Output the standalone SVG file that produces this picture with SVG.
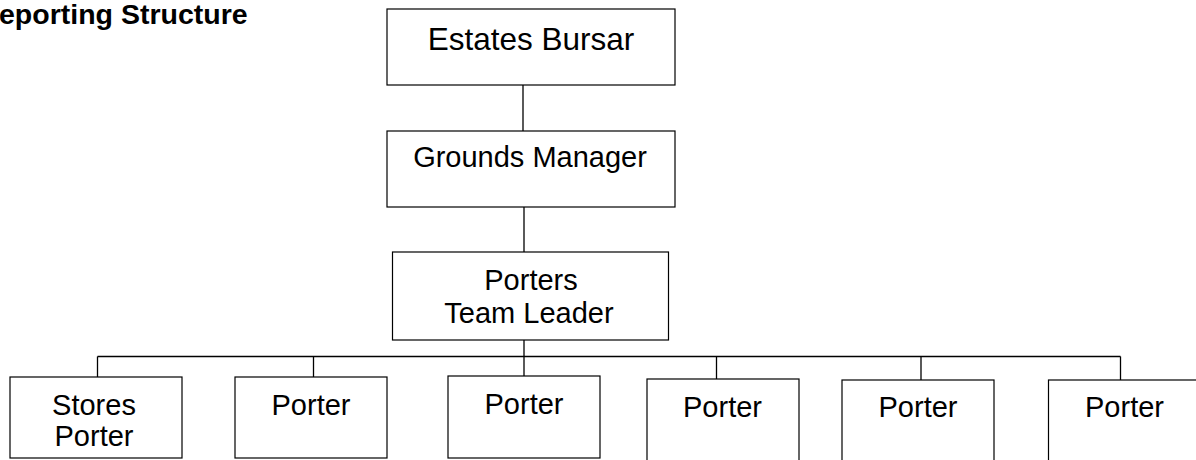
<svg xmlns="http://www.w3.org/2000/svg" width="1196" height="460" viewBox="0 0 1196 460">
<style>
.box{fill:#fff;stroke:#000;stroke-width:1.2}
.ln{fill:none;stroke:#000;stroke-width:1.3}
text{font-family:"Liberation Sans",Arial,sans-serif;fill:#000;text-anchor:middle}
.t{font-size:29px}
.title{font-size:28.5px;font-weight:bold;text-anchor:start}
</style>
<rect width="1196" height="460" fill="#fff"/>
<text class="title" x="-1" y="24">eporting Structure</text>
<g id="connectors">
<line class="ln" x1="523" y1="85" x2="523" y2="131"/>
<line class="ln" x1="524" y1="207" x2="524" y2="252"/>
<line class="ln" x1="97.5" y1="356.5" x2="1120.5" y2="356.5"/>
<line class="ln" x1="524" y1="322" x2="524" y2="376"/>
<line class="ln" x1="97.5" y1="356.5" x2="97.5" y2="377"/>
<line class="ln" x1="313.5" y1="356.5" x2="313.5" y2="377"/>
<line class="ln" x1="716.5" y1="356.5" x2="716.5" y2="379"/>
<line class="ln" x1="921" y1="356.5" x2="921" y2="380"/>
<line class="ln" x1="1120.5" y1="356.5" x2="1120.5" y2="380"/>
</g>
<g id="estates-bursar">
<rect class="box" x="387" y="9" width="288" height="76"/>
<text style="font-size:31.5px" x="531" y="50">Estates Bursar</text>
</g>
<g id="grounds-manager">
<rect class="box" x="387" y="131" width="288" height="76"/>
<text class="t" x="530" y="167">Grounds Manager</text>
</g>
<g id="porters-team-leader">
<rect class="box" x="392.5" y="252" width="276" height="88"/>
<text class="t" x="531" y="290">Porters</text>
<text class="t" x="529" y="323">Team Leader</text>
</g>
<g id="stores-porter">
<rect class="box" x="10" y="377" width="172" height="81"/>
<text class="t" x="94" y="415">Stores</text>
<text class="t" x="94" y="446">Porter</text>
</g>
<g id="porter-1">
<rect class="box" x="235" y="377" width="152" height="81"/>
<text class="t" x="311" y="415">Porter</text>
</g>
<g id="porter-2">
<rect class="box" x="448" y="376" width="152" height="82"/>
<text class="t" x="524" y="414">Porter</text>
</g>
<g id="porter-3">
<rect class="box" x="647" y="379" width="152" height="90"/>
<text class="t" x="722.5" y="417">Porter</text>
</g>
<g id="porter-4">
<rect class="box" x="842" y="380" width="152" height="90"/>
<text class="t" x="918" y="417">Porter</text>
</g>
<g id="porter-5">
<rect class="box" x="1048.5" y="380" width="152" height="90"/>
<text class="t" x="1124.5" y="417">Porter</text>
</g>
</svg>
